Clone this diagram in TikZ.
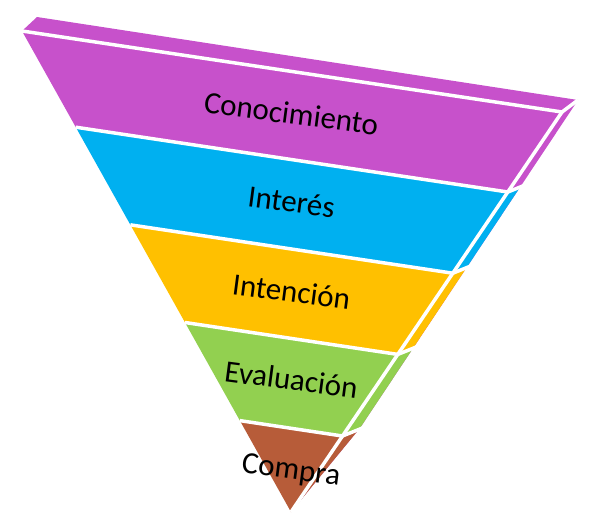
\documentclass[tikz,border=0pt]{standalone}
\usepackage{xcolor}
\usepackage{fontspec}
\setmainfont{Carlito}
\usepackage{tikz}
\usetikzlibrary{calc}
\definecolor{purpura}{RGB}{199,81,203}
\definecolor{azul}{RGB}{0,176,240}
\definecolor{naranja}{RGB}{255,192,0}
\definecolor{verde}{RGB}{146,208,80}
\definecolor{marron}{RGB}{183,92,57}
\tikzset{gap/.style={white,line width=3.5pt},
  etapa/.style={font=\fontsize{31}{37}\selectfont,anchor=base,inner sep=0pt,rotate=-7.5}}

\begin{document}
\begin{tikzpicture}[x=1pt,y=-1pt]
\useasboundingbox (0,0) rectangle (593,520);
\coordinate (A) at (22,31);
\coordinate (B) at (562,112);
\coordinate (T) at (291,512);
\coordinate (A2) at (37,17);
\coordinate (B2) at (578,100);
\coordinate (K2) at (360,428);
  \coordinate (l1) at ($(A)!0.2!(T)$);   \coordinate (r1) at ($(B)!0.2!(T)$);
  \coordinate (l2) at ($(A)!0.403!(T)$); \coordinate (r2) at ($(B)!0.403!(T)$);
  \coordinate (l3) at ($(A)!0.606!(T)$); \coordinate (r3) at ($(B)!0.606!(T)$);
  \coordinate (l4) at ($(A)!0.81!(T)$);  \coordinate (r4) at ($(B)!0.81!(T)$);
% top and side faces
\fill[purpura] (A)--(A2)--(B2)--(B)--cycle;
\fill[purpura] (B)--(B2)--(K2)--(T)--cycle;
\begin{scope}
  \clip (B)--(B2)--(K2)--(T)--cycle;
  \fill[azul] (r1)--($(r1)+(30,-12)$)--($(r2)+(30,-12)$)--(r2)--cycle;
  \fill[naranja] (r2)--($(r2)+(30,-12)$)--($(r3)+(30,-12)$)--(r3)--cycle;
  \fill[verde] (r3)--($(r3)+(30,-12)$)--($(r4)+(30,-12)$)--(r4)--cycle;
  \fill[marron] (r4)--($(r4)+(30,-12)$)--($(T)+(30,-12)$)--(T)--cycle;
\end{scope}
% front face
\fill[purpura] (A)--(B)--(r1)--(l1)--cycle;
\fill[azul] (l1)--(r1)--(r2)--(l2)--cycle;
\fill[naranja] (l2)--(r2)--(r3)--(l3)--cycle;
\fill[verde] (l3)--(r3)--(r4)--(l4)--cycle;
\fill[marron] (l4)--(r4)--(T)--cycle;
% white gaps
\draw[gap] (A)--(B)--(B2);
\draw[gap] (B)--(T);
  \draw[gap] (l1)--(r1)--($(r1)+(30,-12)$);
  \draw[gap] (l2)--(r2)--($(r2)+(30,-12)$);
  \draw[gap] (l3)--(r3)--($(r3)+(30,-12)$);
  \draw[gap] (l4)--(r4)--($(r4)+(30,-12)$);
\node[etapa] (conocimiento) at (290,124) {Conocimiento};
\node[etapa] (interes) at (290,212) {Interés};
\node[etapa] (intencion) at (290,302) {Intención};
\node[etapa] (evaluacion) at (290,390) {Evaluación};
\node[etapa] (compra) at (290,479) {Compra};
\end{tikzpicture}
\end{document}
